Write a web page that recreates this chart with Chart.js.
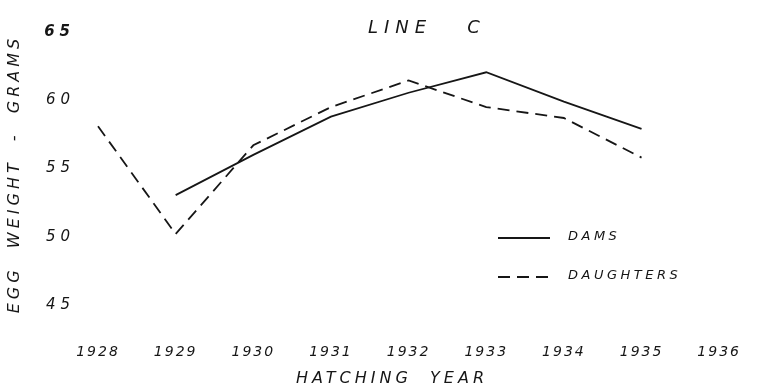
<!DOCTYPE html>
<html>
<head>
<meta charset="utf-8">
<title>Line C - egg weight</title>
<script src="https://cdn.jsdelivr.net/npm/chart.js@4/dist/chart.umd.min.js"></script>
<style>
  html, body { margin: 0; padding: 0; background: #fff; }
  #chartBox { width: 776px; height: 391px; }
</style>
</head>
<body>
<div id="chartBox"><canvas id="eggChart"></canvas></div>
<script>
const years = ['1928', '1929', '1930', '1931', '1932', '1933', '1934', '1935', '1936'];
const damsWeight = [null, 53.05, 56.0, 58.8, 60.55, 62.05, 59.9, 57.9, null];
const daughtersWeight = [58.1, 50.2, 56.7, 59.5, 61.45, 59.5, 58.7, 55.8, null];
const weightTicks = [45, 50, 55, 60, 65];

const chartTitle = 'LINE   C';
const yTitle = 'EGG  WEIGHT  -  GRAMS';
const xTitle = 'HATCHING  YEAR';

const INK = '#161616';
const FONT = '"DejaVu Sans", sans-serif';

// hand-lettered look: oblique caps with wide letter spacing
function letter(ctx, size, spacing) {
  ctx.font = `italic ${size}px ${FONT}`;
  ctx.letterSpacing = `${spacing}px`;
}

const lettering = {
  id: 'lettering',
  // y tick labels are drawn before the datasets, x tick labels after them
  beforeDraw(chart) {
    chart.ctx.letterSpacing = '5px';
  },
  afterDatasetsDraw(chart) {
    chart.ctx.letterSpacing = '2px';
  },
  afterDraw(chart) {
    const ctx = chart.ctx;
    ctx.save();
    ctx.fillStyle = INK;
    ctx.strokeStyle = INK;
    ctx.textBaseline = 'middle';

    letter(ctx, 18, 6);
    ctx.textAlign = 'left';
    ctx.fillText(chartTitle, 368, 28);

    letter(ctx, 16, 4);
    ctx.textAlign = 'center';
    ctx.fillText(xTitle, 392, 379);

    ctx.save();
    ctx.translate(15, 174);
    ctx.rotate(-Math.PI / 2);
    ctx.fillText(yTitle, 0, 0);
    ctx.restore();

    // legend: line sample + label for each series
    letter(ctx, 13, 3.5);
    ctx.textAlign = 'left';
    const rows = [238, 277];
    chart.data.datasets.forEach((ds, i) => {
      const y = rows[i];
      ctx.save();
      ctx.lineWidth = ds.borderWidth;
      ctx.setLineDash(ds.borderDash || []);
      ctx.beginPath();
      ctx.moveTo(498, y);
      ctx.lineTo(550, y);
      ctx.stroke();
      ctx.restore();
      ctx.fillText(ds.label, 568, y - 1);
    });
    ctx.restore();
  },
};

const ctx = document.getElementById('eggChart');
const eggChart = new Chart(ctx, {
  type: 'line',
  data: {
    labels: years,
    datasets: [
      {
        label: 'DAMS',
        data: damsWeight,
        borderColor: INK,
        borderWidth: 1.8,
        borderDash: [],
        pointRadius: 0,
        tension: 0,
        fill: false,
      },
      {
        label: 'DAUGHTERS',
        data: daughtersWeight,
        borderColor: INK,
        borderWidth: 1.8,
        borderDash: [12, 7],
        pointRadius: 0,
        tension: 0,
        fill: false,
      },
    ],
  },
  options: {
    responsive: true,
    maintainAspectRatio: false,
    animation: false,
    layout: { padding: { top: 17, right: 24, bottom: 0, left: 0 } },
    plugins: {
      legend: { display: false },
      tooltip: { enabled: false },
      title: { display: false },
    },
    scales: {
      x: {
        offset: false,
        grid: { display: false, drawTicks: false },
        border: { display: false },
        ticks: {
          z: 1,
          color: INK,
          padding: 39,
          maxRotation: 0,
          autoSkip: false,
          font: { family: FONT, size: 14, style: 'italic' },
        },
        afterFit: (scale) => { scale.height = 86; },
      },
      y: {
        min: 45,
        max: 65,
        grid: { display: false, drawTicks: false },
        border: { display: false },
        afterBuildTicks: (scale) => {
          scale.ticks = weightTicks.map(value => ({ value }));
        },
        ticks: {
          z: 0,
          color: INK,
          padding: 23,
          // the top label is inked heavier than the rest
          font: (c) => ({
            family: FONT,
            size: 15,
            style: 'italic',
            weight: c.tick && c.tick.value === 65 ? 'bold' : 'normal',
          }),
        },
        afterFit: (scale) => { scale.width = 98; },
      },
    },
  },
  plugins: [lettering],
});
</script>
</body>
</html>
